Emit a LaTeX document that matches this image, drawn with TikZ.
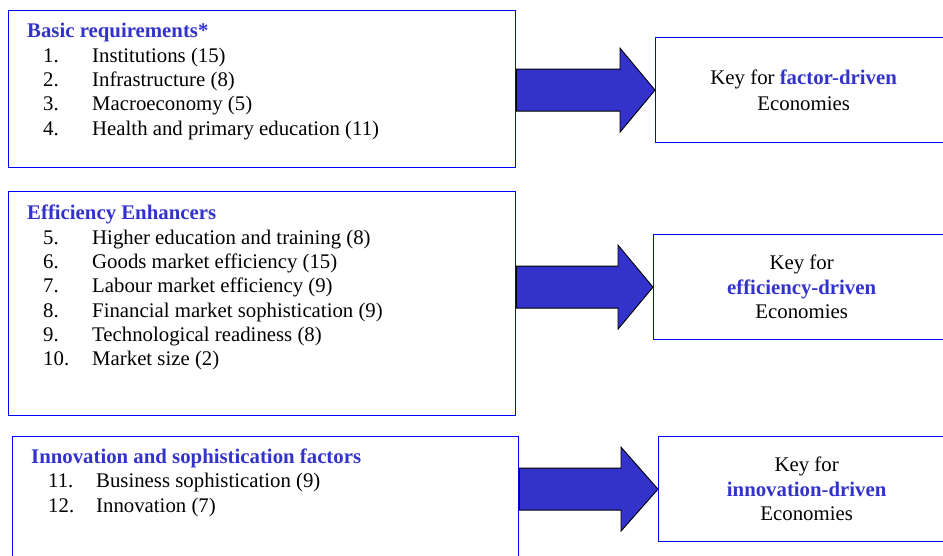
\documentclass[tikz,border=0pt]{standalone}
\usepackage{fontspec}
\setmainfont{Liberation Serif}
\usetikzlibrary{calc}
\definecolor{headblue}{RGB}{51,51,204}
\definecolor{frameblue}{RGB}{0,0,255}

\begin{document}
\begin{tikzpicture}[x=1pt, y=-1pt,
    catbox/.style={draw=frameblue, line width=1.3pt, anchor=north west, inner sep=0pt},
    keybox/.style={draw=frameblue, line width=1.3pt, anchor=north west,
                   minimum width=296pt, minimum height=105pt, inner sep=0pt,
                   align=center, font=\fontsize{20.8}{24.5}\selectfont},
    head/.style={anchor=base west, inner sep=0pt, text=headblue,
                 font=\fontsize{20.8}{24.5}\selectfont\bfseries},
    item/.style={anchor=base west, inner sep=0pt, font=\fontsize{20.8}{24.5}\selectfont},
    bigarrow/.style={draw=black, line width=0.9pt, fill=headblue}
  ]
  \useasboundingbox (0,0) rectangle (943,556);

  % pillar groups
  \node[catbox, minimum width=507pt, minimum height=157pt] (basic) at (8,10) {};
  \node[head] (basic-head) at (27,38) {Basic requirements*};
  \foreach \n/\t [count=\k] in {1./Institutions (15), 2./Infrastructure (8),
      3./Macroeconomy (5), 4./Health and primary education (11)} {
    \node[item] (basic-n\k) at (43,{38+24.3*\k}) {\n};
    \node[item] (basic-t\k) at (92,{38+24.3*\k}) {\t};
  }

  \node[catbox, minimum width=507pt, minimum height=224pt] (effic) at (8,191) {};
  \node[head] (effic-head) at (27,220) {Efficiency Enhancers};
  \foreach \n/\t [count=\k] in {5./Higher education and training (8),
      6./Goods market efficiency (15), 7./Labour market efficiency (9),
      8./Financial market sophistication (9), 9./Technological readiness (8),
      10./Market size (2)} {
    \node[item] (effic-n\k) at (43,{220+24.3*\k}) {\n};
    \node[item] (effic-t\k) at (92,{220+24.3*\k}) {\t};
  }

  \node[catbox, minimum width=506pt, minimum height=132pt] (innov) at (12,436) {};
  \node[head] (innov-head) at (31,463) {Innovation and sophistication factors};
  \foreach \n/\t [count=\k] in {11./Business sophistication (9), 12./Innovation (7)} {
    \node[item] (innov-n\k) at (48,{463+24.5*\k}) {\n};
    \node[item] (innov-t\k) at (96,{463+24.5*\k}) {\t};
  }

  % stages
  \node[keybox, font=\fontsize{20.8}{26}\selectfont] (keyf) at (655,37)
    {Key for \textcolor{headblue}{\bfseries factor-driven}\\Economies};
  \node[keybox] (keye) at (653,234)
    {Key for\\\textcolor{headblue}{\bfseries efficiency-driven}\\Economies};
  \node[keybox] (keyi) at (658,436)
    {Key for\\\textcolor{headblue}{\bfseries innovation-driven}\\Economies};

  % block arrows
  \draw[bigarrow] (keyf.west) -- ++(-35,-42) -- ++(0,21)
    -- ($(basic.east |- keyf.west)+(0,-21)$) -- ++(0,42)
    -- ($(keyf.west)+(-35,21)$) -- ++(0,21) -- cycle;
  \draw[bigarrow] (keye.west) -- ++(-35,-42) -- ++(0,21)
    -- ($(effic.east |- keye.west)+(0,-21)$) -- ++(0,42)
    -- ($(keye.west)+(-35,21)$) -- ++(0,21) -- cycle;
  \draw[bigarrow] (keyi.west) -- ++(-37,-42) -- ++(0,21)
    -- ($(innov.east |- keyi.west)+(0,-21)$) -- ++(0,42)
    -- ($(keyi.west)+(-37,21)$) -- ++(0,21) -- cycle;
\end{tikzpicture}
\end{document}
